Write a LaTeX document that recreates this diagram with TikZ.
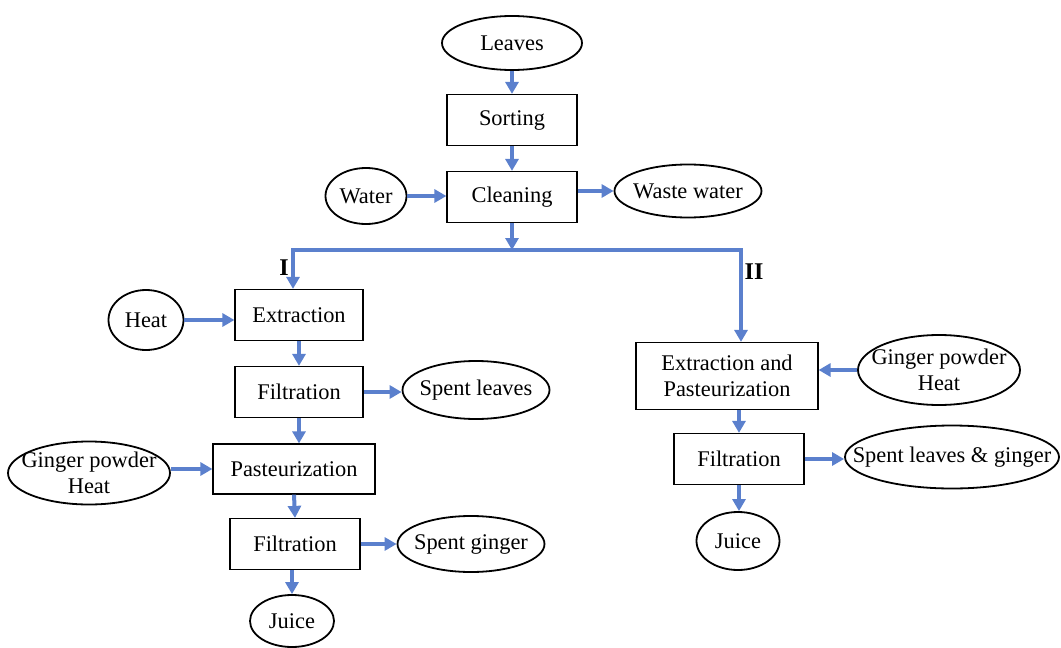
\documentclass[tikz,border=0pt]{standalone}
\usepackage{fontspec}
\setmainfont{Liberation Serif}
\usepackage{tikz}
\usetikzlibrary{arrows.meta}
\usetikzlibrary{shapes.geometric}
\definecolor{flowblue}{RGB}{91,128,205}
\tikzset{>={Triangle[length=6pt, width=6.5pt]},
         stage/.style = {draw, line width=0.6pt, inner sep=0pt,
                         minimum width=65pt, minimum height=25.5pt},
         feed/.style = {draw, ellipse, line width=0.9pt,
                        inner xsep=-14pt, inner ysep=-6pt},
         flow/.style = {->, draw=flowblue, line width=2pt}}

\begin{document}
\begin{tikzpicture}[x=0.5pt, y=-0.5pt, font=\fontsize{11.2}{13}\selectfont]
    \useasboundingbox (0, 0) rectangle (1061, 648);
    \node [feed, minimum width=70pt, minimum height=27pt] (leaves) at (512, 43) {Leaves};
    \node [stage] (sorting) at (512, 120) {Sorting};
    \node [stage] (cleaning) at (512, 197) {Cleaning};
    \node [feed, minimum width=40.5pt, minimum height=28pt] (water) at (366, 196) {Water};
    \node [feed, minimum width=73.5pt, minimum height=26.5pt] (waste) at (688, 191) {Waste water};
    \coordinate (split) at (512, 250);
    \coordinate (lturn) at (293, 250);
    \coordinate (rturn) at (741, 250);
    \node [font=\fontsize{12}{14}\selectfont\bfseries] (one) at (284, 268) {I};
    \node [font=\fontsize{12}{14}\selectfont\bfseries] (two) at (754, 272) {II};
    \node [stage, minimum width=64pt] (extr) at (299, 315) {Extraction};
    \node [feed, minimum width=37.5pt, minimum height=30pt] (heat) at (146, 320) {Heat};
    \node [stage, minimum width=64pt] (filone) at (299, 392) {Filtration};
    \node [feed, minimum width=73.5pt, minimum height=29pt] (spleaves) at (476, 390) {Spent leaves};
    \node [stage, minimum width=81pt, minimum height=25pt] (past) at (294, 469) {Pasteurization};
    \node [feed, minimum width=81pt, minimum height=31.5pt, align=center] (gingerl) at (89, 473) {Ginger powder\\Heat};
    \node [stage] (filtwo) at (295, 544) {Filtration};
    \node [feed, minimum width=73.5pt, minimum height=28pt] (spginger) at (471, 544) {Spent ginger};
    \node [feed, minimum width=42pt, minimum height=26pt] (juicel) at (292, 621) {Juice};
    \node [stage, minimum width=91pt, minimum height=33.5pt, align=center] (extpast) at (727, 376) {Extraction and\\Pasteurization};
    \node [feed, minimum width=81pt, minimum height=35pt, align=center] (gingerr) at (939, 370) {Ginger powder\\Heat};
    \node [stage] (filthree) at (739, 459) {Filtration};
    \node [feed, minimum width=107pt, minimum height=31.5pt] (spboth) at (952, 457) {Spent leaves \& ginger};
    \node [feed, minimum width=41.5pt, minimum height=29pt] (juicer) at (738, 541) {Juice};
    \draw [flow] (leaves.south) -- (sorting.north);
    \draw [flow] (sorting.south) -- (cleaning.north);
    \draw [flow] (water.east) -- (water.east -| cleaning.west);
    \draw [flow] (cleaning.east |- waste.west) -- (waste.west);
    \draw [flow] (cleaning.south) -- (split);
    \draw [flow, <->] (lturn |- extr.north) -- (lturn) -- (rturn) -- (rturn |- extpast.north);
    \draw [flow] (heat.east) -- (heat.east -| extr.west);
    \draw [flow] (extr.south) -- (filone.north);
    \draw [flow] (filone.east) -- (filone.east -| spleaves.west);
    \draw [flow] (filone.south) -- (filone.south |- past.north);
    \draw [flow] (past.west -| gingerl.east) -- (past.west);
    \draw [flow] (past.south) -- (filtwo.north);
    \draw [flow] (filtwo.east) -- (filtwo.east -| spginger.west);
    \draw [flow] (filtwo.south -| juicel.north) -- (juicel.north);
    \draw [flow] (gingerr.west) -- (gingerr.west -| extpast.east);
    \draw [flow] (filthree.north |- extpast.south) -- (filthree.north);
    \draw [flow] (filthree.east) -- (filthree.east -| spboth.west);
    \draw [flow] (filthree.south) -- (filthree.south |- juicer.north);
  \end{tikzpicture}
\end{document}
